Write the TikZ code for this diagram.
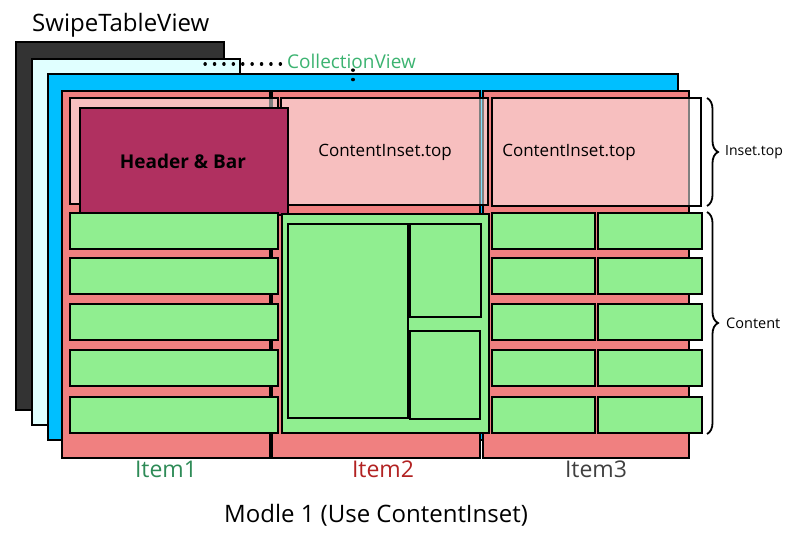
\documentclass[tikz,border=0pt]{standalone}
\usepackage{fontspec}
\setmainfont{Open Sans}
\usetikzlibrary{fit,decorations.pathreplacing}
\definecolor{darkbox}{HTML}{333333}
\definecolor{cyanbox}{HTML}{E0FFFF}
\definecolor{bluebox}{HTML}{00BFFF}
\definecolor{salmon}{HTML}{F08080}
\definecolor{hdrcol}{HTML}{B03060}
\definecolor{greenbox}{HTML}{90EE90}
\definecolor{cvtext}{HTML}{3CB371}
\definecolor{itemone}{HTML}{2E8B57}
\definecolor{itemtwo}{HTML}{B22222}
\definecolor{itemthree}{HTML}{404040}
\tikzset{
  box/.style={draw=black, line width=1.6pt, inner sep=0pt, outer sep=0pt},
  layer/.style={box},
  column/.style={box, fill=salmon},
  inset/.style={box, fill=white, fill opacity=0.5},
  hdrbox/.style={box, fill=hdrcol},
  cell/.style={box, fill=greenbox},
  dotline/.style={line width=3.2pt, dash pattern=on 0.3pt off 9.1pt, line cap=round},
  bracestyle/.style={decorate, decoration={brace, amplitude=11pt}, line width=1.8pt},
  lbl/.style={inner sep=0pt, text=black},
}
\begin{document}
\begin{tikzpicture}[x=1pt,y=-1pt]
\useasboundingbox (0,0) rectangle (803,545);
% layers
\node[layer, fill=darkbox, fit={(16,42)(224,410)}] (swipe) {};
\node[layer, fill=cyanbox, fit={(32,59)(240,425)}] (coll) {};
\node[layer, fill=bluebox, fit={(48,74)(678,440)}] (blue) {};
\node[lbl, font=\fontsize{24}{26}\selectfont, anchor=west] (swtxt) at (32,25) {SwipeTableView};
\node[lbl, text=cvtext, font=\fontsize{19}{22}\selectfont, anchor=west] (cvtxt) at (287,61) {CollectionView};
\coordinate (dotA) at (205,64);
\coordinate (dotE) at (281,64);
\coordinate (dotB) at (353,70);
\coordinate (dotC) at (353,80);
\draw[dotline] (dotA) -- (dotE);
\draw[dotline] (dotB) -- (dotC);
% columns
\node[column, fit={(62,91)(270,458)}] (col1) {};
\node[column, fit={(272,91)(480,458)}] (col2) {};
\node[column, fit={(483,91)(689,458)}] (col3) {};
% insets
\node[inset, fit={(70,98)(278,204)}] (in1) {};
\node[inset, fit={(281,98)(488,205)}] (in2) {};
\node[inset, fit={(492,98)(701,206)}] (in3) {};
\node[lbl, font=\fontsize{17}{20}\selectfont] (in2txt) at (385,152) {ContentInset.top};
\node[lbl, font=\fontsize{17}{20}\selectfont] (in3txt) at (569,152) {ContentInset.top};
% header
\node[hdrbox, fit={(80,108)(288,215)}] (hdr) {};
\node[lbl, font=\bfseries\fontsize{19}{22}\selectfont] (hdrtxt) at (183,161) {Header \& Bar};
% item1 rows
\foreach \y [count=\i] in {213,258,304,350,397}{
  \node[cell, fit={(70,\y)(278,\y+36)}] (aRow\i) {};
}
% item2 content
\node[cell, fit={(282,214)(489,433)}] (bOuter) {};
\node[cell, fit={(288,224)(408,418)}] (bLeft) {};
\node[cell, fit={(410,224)(481,317)}] (bTop) {};
\node[cell, fit={(410,331)(480,419)}] (bBot) {};
% item3 rows
\foreach \y [count=\i] in {213,258,304,350,397}{
  \node[cell, fit={(492,\y)(595,\y+36)}] (cLeft\i) {};
  \node[cell, fit={(598,\y)(702,\y+36)}] (cRight\i) {};
}
% braces
\coordinate (brA) at (707,98);
\coordinate (brB) at (707,206);
\coordinate (brC) at (707,212);
\coordinate (brD) at (707,434);
\draw[bracestyle] (brA) -- (brB);
\draw[bracestyle] (brC) -- (brD);
\node[lbl, font=\fontsize{14}{16}\selectfont, anchor=west] (insettxt) at (725,152) {Inset.top};
\node[lbl, font=\fontsize{14.5}{16}\selectfont, anchor=west] (contenttxt) at (726,323) {Content};
% item labels
\node[lbl, text=itemone, font=\fontsize{23}{25}\selectfont] (it1) at (166,469) {Item1};
\node[lbl, text=itemtwo, font=\fontsize{23}{25}\selectfont] (it2) at (383,469) {Item2};
\node[lbl, text=itemthree, font=\fontsize{23}{25}\selectfont] (it3) at (596,469) {Item3};
\node[lbl, font=\fontsize{24}{26}\selectfont] (title) at (376,515) {Modle 1 (Use ContentInset)};
\end{tikzpicture}
\end{document}
